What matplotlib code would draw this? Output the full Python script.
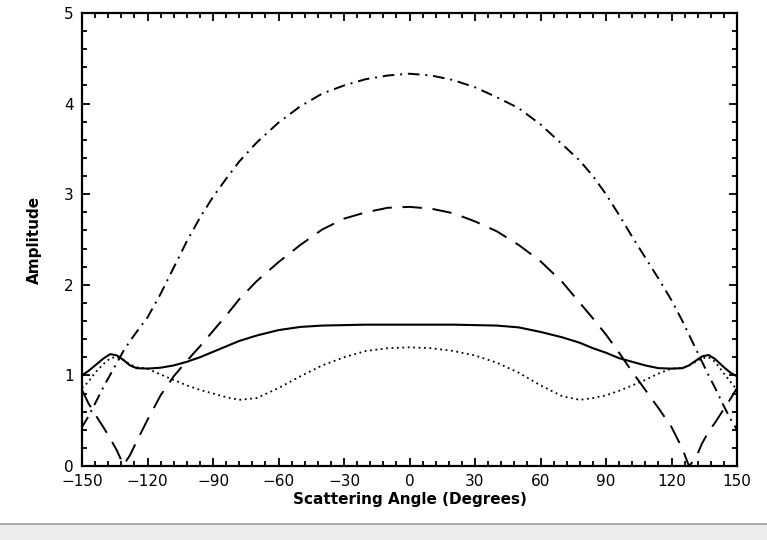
import matplotlib.pyplot as plt
from matplotlib.ticker import MultipleLocator
import matplotlib.patches as patches

plt.rcParams.update({'font.size': 11, 'font.family': 'DejaVu Sans'})

# scattering angle grid (degrees) and amplitudes for each curve
angle = [-150, -147, -144, -140, -137, -134, -131, -128, -125, -120, -114, -108,
         -102, -96, -90, -84, -78, -70, -60, -50, -40, -30, -20, -10, 0,
         10, 20, 30, 40, 50, 60, 70, 78, 84, 90, 96, 102, 108, 114, 120,
         125, 128, 131, 134, 137, 140, 144, 147, 150]

solid = [1.00, 1.05, 1.11, 1.19, 1.235, 1.22, 1.17, 1.11, 1.08, 1.075, 1.085, 1.11,
         1.15, 1.20, 1.26, 1.32, 1.38, 1.44, 1.50, 1.535, 1.55, 1.555, 1.56, 1.56, 1.56,
         1.56, 1.56, 1.555, 1.55, 1.53, 1.48, 1.42, 1.36, 1.30, 1.25, 1.19, 1.15, 1.11, 1.08, 1.075,
         1.08, 1.11, 1.16, 1.21, 1.225, 1.18, 1.09, 1.03, 0.99]

dotted = [0.86, 0.93, 1.03, 1.13, 1.19, 1.205, 1.17, 1.12, 1.09, 1.075, 1.01, 0.95,
          0.89, 0.84, 0.80, 0.76, 0.73, 0.75, 0.86, 0.99, 1.11, 1.20, 1.27, 1.30, 1.31,
          1.30, 1.27, 1.22, 1.14, 1.03, 0.89, 0.77, 0.73, 0.75, 0.78, 0.83, 0.89, 0.95, 1.02, 1.075,
          1.08, 1.11, 1.15, 1.19, 1.20, 1.15, 1.02, 0.93, 0.84]

dashed = [0.84, 0.69, 0.57, 0.42, 0.30, 0.17, 0.01, 0.12, 0.27, 0.51, 0.78, 0.99,
          1.16, 1.32, 1.49, 1.66, 1.84, 2.04, 2.25, 2.44, 2.61, 2.73, 2.80, 2.85, 2.86,
          2.84, 2.79, 2.70, 2.59, 2.44, 2.26, 2.03, 1.80, 1.63, 1.45, 1.25, 1.04, 0.84, 0.64, 0.43,
          0.19, 0.0, 0.08, 0.25, 0.38, 0.48, 0.63, 0.74, 0.86]

dashdot = [0.43, 0.55, 0.69, 0.88, 1.01, 1.14, 1.27, 1.38, 1.48, 1.64, 1.90, 2.19,
           2.48, 2.74, 2.97, 3.17, 3.36, 3.57, 3.79, 3.97, 4.11, 4.20, 4.27, 4.31, 4.33,
           4.31, 4.26, 4.18, 4.07, 3.95, 3.77, 3.55, 3.37, 3.20, 3.00, 2.77, 2.53, 2.30, 2.07, 1.83,
           1.60, 1.45, 1.30, 1.15, 1.00, 0.86, 0.66, 0.52, 0.40]

fig = plt.figure(figsize=(7.67, 5.40), dpi=100)
ax = fig.add_axes([82/767, 1-466/540, 655/767, 453/540])

ax.plot(angle, dashdot, color='k', lw=1.4, linestyle=(0, (6, 3, 1, 3)))
ax.plot(angle, dashed, color='k', lw=1.4, linestyle=(0, (10, 5.5)))
ax.plot(angle, solid, color='k', lw=1.5, linestyle='-')
ax.plot(angle, dotted, color='k', lw=1.3, linestyle=(0, (1, 2)))

ax.set_xlim(-150, 150)
ax.set_ylim(0, 5)
ax.xaxis.set_major_locator(MultipleLocator(30))
ax.xaxis.set_minor_locator(MultipleLocator(6))
ax.yaxis.set_major_locator(MultipleLocator(1))
ax.yaxis.set_minor_locator(MultipleLocator(0.2))
ax.tick_params(which='both', direction='in', top=True, right=True, width=1.3)
ax.tick_params(which='major', length=6, pad=6)
ax.tick_params(which='minor', length=3.5)
for s in ax.spines.values():
    s.set_linewidth(1.6)

ax.set_xlabel('Scattering Angle (Degrees)', fontweight='bold', labelpad=2)
ax.set_ylabel('Amplitude', fontweight='bold', labelpad=16)

# page edge strip along the bottom
fig.add_artist(patches.Rectangle((0, 0), 1, 1-525/540, transform=fig.transFigure,
                                 facecolor='#ececec', edgecolor='none'))
fig.add_artist(plt.Line2D([0, 1], [1-524/540, 1-524/540], transform=fig.transFigure,
                          color='#9a9a9a', lw=1.2))

fig.savefig('out.png', dpi=100)
